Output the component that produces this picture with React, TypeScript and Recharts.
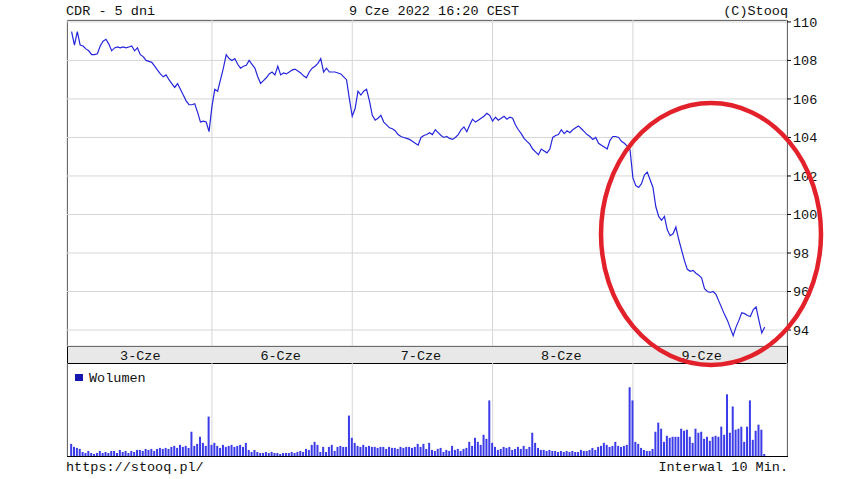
import { LineChart, Line, BarChart, Bar, XAxis, YAxis, CartesianGrid } from "recharts"

// CDR, 5 days, 10-minute candles (close) + volume
const dayLabels = ["3-Cze", "6-Cze", "7-Cze", "8-Cze", "9-Cze"]

const day1Price = [
  109.5, 108.8, 109.5, 108.8, 108.75, 108.6, 108.5, 108.3, 108.3, 108.35,
  108.75, 109.0, 109.1, 108.85, 108.5, 108.65, 108.7, 108.65, 108.7, 108.65,
  108.7, 108.75, 108.5, 108.65, 108.3, 108.2, 108.0, 107.95, 107.9, 107.7,
  107.5, 107.3, 107.15, 107.25, 107.0, 106.8, 106.6, 106.8, 106.5, 106.2,
  105.9, 105.7, 105.7, 105.75, 105.3, 104.8, 104.85, 104.8, 104.3,
]
const day2Price = [
  105.6, 106.5, 106.4, 107.0, 107.6, 108.3, 108.1, 108.0, 108.1, 107.8,
  107.6, 107.7, 107.75, 108.0, 107.8, 107.6, 107.15, 106.8, 106.95, 107.1,
  107.3, 107.4, 107.25, 107.7, 107.25, 107.35, 107.3, 107.4, 107.5, 107.55,
  107.45, 107.35, 107.2, 107.1, 107.4, 107.6, 107.7, 107.85, 108.1, 107.4,
  107.6, 107.4, 107.4, 107.4, 107.35, 107.3, 107.15, 107.0, 106.0,
]
const day3Price = [
  105.1, 105.5, 106.4, 106.2, 106.4, 106.5, 105.9, 105.15, 104.9, 105.0,
  105.15, 104.8, 104.65, 104.5, 104.45, 104.35, 104.15, 104.05, 104.0, 103.95,
  103.9, 103.8, 103.7, 103.6, 104.0, 104.1, 104.15, 104.25, 104.15, 104.4,
  104.25, 104.1, 104.0, 104.05, 103.95, 103.9, 104.0, 104.15, 104.4, 104.55,
  104.3, 104.65, 104.95, 104.8, 104.9, 105.0, 105.1, 105.25, 105.15,
]
const day4Price = [
  104.85, 105.05, 104.9, 105.0, 105.1, 104.95, 105.05, 105.0, 104.65, 104.4,
  104.2, 103.95, 103.8, 103.65, 103.4, 103.25, 103.1, 103.4, 103.3, 103.2,
  103.4, 104.0, 104.1, 104.15, 104.4, 104.2, 104.35, 104.25, 104.4, 104.5,
  104.6, 104.45, 104.3, 104.15, 104.05, 103.9, 104.0, 103.7, 103.6, 103.5,
  103.4, 103.85, 104.05, 104.05, 104.0, 103.8, 103.7, 103.55, 103.35,
]
const day5Price = [
  101.9, 101.5, 101.4, 101.6, 102.05, 102.2, 101.8, 101.4, 100.4, 99.9,
  99.7, 99.9, 99.2, 98.9, 99.0, 99.35, 98.7, 98.15, 97.6, 97.15,
  97.05, 97.1, 96.95, 96.85, 96.7, 96.15, 96.0, 95.95, 96.0, 95.85,
  95.5, 95.15, 94.8, 94.5, 94.1, 93.7, 94.15, 94.5, 94.9, 94.85,
  94.75, 94.7, 95.05, 95.2, 94.5, 93.85, 94.15,
]

const day1Vol = [
  12, 9, 8, 7, 4, 3, 5, 3, 2, 3, 5, 3, 4, 3, 5, 5, 3, 6, 4, 5,
  3, 5, 4, 6, 6, 5, 7, 6, 7, 5, 7, 8, 7, 8, 7, 9, 10, 8, 11, 9,
  10, 8, 24, 10, 12, 19, 13, 10, 39,
]
const day2Vol = [
  11, 13, 10, 8, 11, 9, 10, 11, 9, 10, 11, 9, 13, 6, 4, 6, 4, 3, 3, 4,
  3, 4, 3, 3, 2, 3, 3, 3, 4, 3, 4, 5, 4, 7, 6, 11, 14, 11, 4, 9,
  4, 9, 11, 5, 9, 10, 9, 9, 40,
]
const day3Vol = [
  18, 13, 10, 9, 11, 9, 10, 9, 9, 8, 9, 9, 7, 9, 8, 8, 7, 9, 8, 9,
  9, 8, 9, 12, 9, 12, 7, 13, 6, 5, 7, 8, 4, 6, 5, 10, 6, 7, 5, 7,
  8, 14, 10, 18, 14, 11, 21, 17, 55,
]
const day4Vol = [
  13, 9, 6, 7, 9, 8, 9, 6, 7, 9, 7, 10, 7, 9, 23, 13, 8, 6, 6, 5,
  6, 5, 5, 4, 5, 4, 5, 4, 5, 4, 4, 6, 5, 5, 6, 8, 6, 9, 10, 13,
  11, 9, 10, 14, 10, 9, 10, 11, 68,
]
const day5Vol = [
  55, 14, 12, 8, 6, 5, 5, 7, 24, 33, 27, 14, 20, 18, 19, 19, 19, 27, 25, 26,
  19, 13, 27, 23, 24, 17, 19, 15, 19, 20, 19, 29, 21, 61, 23, 49, 26, 27, 29, 14,
  29, 55, 16, 25, 31, 26, 2,
]

const priceTicks = [94, 96, 98, 100, 102, 104, 106, 108, 110]

const SLOTS = 49 // 10-min slots per session
const prices = [day1Price, day2Price, day3Price, day4Price, day5Price]
const volumes = [day1Vol, day2Vol, day3Vol, day4Vol, day5Vol]

const data = prices.flatMap((day, d) =>
  day.map((p, k) => ({ t: d * SLOTS + k, price: p, vol: volumes[d][k] }))
)
const separators = [1, 2, 3, 4].map((d) => d * SLOTS)
const labelTicks = dayLabels.map((_, d) => d * SLOTS + 24)

const X_DOMAIN: [number, number] = [-1.6, 249.8]
const FONT = "'Liberation Mono', 'DejaVu Sans Mono', monospace"
const FS = 13.5
const LINE = "#2626dc"
const BAR = "#3b3be8"
const GRID = "#d6d6d6"

const blank = () => ""

export default function App() {
  return (
    <div style={{ position: "absolute", left: 0, top: 0, width: 865, height: 479, background: "#fff", overflow: "hidden" }}>
      {/* panel frames */}
      <div style={{ position: "absolute", left: 67, top: 20, width: 721, height: 327, border: "1px solid #000", boxSizing: "border-box" }} />
      <div style={{ position: "absolute", left: 67, top: 346, width: 721, height: 18, border: "1px solid #000", boxSizing: "border-box", background: "#e8e8e8" }} />
      <div style={{ position: "absolute", left: 67, top: 363, width: 721, height: 94, border: "1px solid #000", boxSizing: "border-box" }} />

      <div style={{ position: "absolute", left: 0, top: 0 }}>
        <LineChart width={865} height={347} data={data} margin={{ top: 20, right: 38, bottom: 1, left: 67 }}>
          <CartesianGrid stroke={GRID} />
          <XAxis
            dataKey="t"
            type="number"
            domain={X_DOMAIN}
            allowDataOverflow
            ticks={separators}
            orientation="bottom"
            mirror
            height={0}
            tickSize={3}
            tickLine={{ stroke: "#000" }}
            axisLine={false}
            tickFormatter={blank}
          />
          <XAxis
            xAxisId="top"
            dataKey="t"
            type="number"
            domain={X_DOMAIN}
            allowDataOverflow
            ticks={separators}
            orientation="top"
            mirror
            height={0}
            tickSize={3}
            tickLine={{ stroke: "#000" }}
            axisLine={false}
            tickFormatter={blank}
          />
          <YAxis
            orientation="right"
            type="number"
            width={40}
            domain={[93.17, 110.1]}
            allowDataOverflow
            ticks={priceTicks}
            tickSize={4}
            tickMargin={2}
            axisLine={false}
            tickLine={{ stroke: "#000" }}
            tick={{ fontSize: FS, fontFamily: FONT, fill: "#111" }}
          />
          <Line type="linear" dataKey="price" stroke={LINE} strokeWidth={1.2} dot={false} isAnimationActive={false} />
        </LineChart>
      </div>

      <div style={{ position: "absolute", left: 0, top: 346 }}>
        <BarChart width={865} height={111} data={data} margin={{ top: 0, right: 78, bottom: 1, left: 67 }}>
          <CartesianGrid stroke={GRID} horizontal={false} />
          <XAxis
            dataKey="t"
            type="number"
            domain={X_DOMAIN}
            allowDataOverflow
            ticks={separators}
            orientation="top"
            mirror
            height={0}
            tickSize={3}
            tickLine={{ stroke: "#000" }}
            axisLine={false}
            tickFormatter={blank}
          />
          <XAxis
            xAxisId="labels"
            dataKey="t"
            type="number"
            domain={X_DOMAIN}
            allowDataOverflow
            ticks={labelTicks}
            orientation="top"
            height={17}
            tickSize={0}
            tickMargin={3}
            tickLine={false}
            axisLine={false}
            tickFormatter={(v: number) => dayLabels[Math.floor(v / SLOTS)] ?? ""}
            tick={{ fontSize: FS, fontFamily: FONT, fill: "#111" }}
          />
          <YAxis hide domain={[0, 92]} allowDataOverflow />
          <Bar dataKey="vol" fill={BAR} barSize={2} isAnimationActive={false} />
        </BarChart>
      </div>

      <svg width={865} height={479} style={{ position: "absolute", left: 0, top: 0, pointerEvents: "none" }}>
        <g fontFamily={FONT} fontSize={FS} fill="#111">
          <text x={66} y={15}>CDR - 5 dni</text>
          <text x={434} y={15} textAnchor="middle">9 Cze 2022 16:20 CEST</text>
          <text x={788} y={15} textAnchor="end">(C)Stooq</text>
          <text x={89} y={382}>Wolumen</text>
          <text x={66} y={471}>https://stooq.pl/</text>
          <text x={788} y={471} textAnchor="end">Interwal 10 Min.</text>
        </g>
        <rect x={75} y={374} width={8} height={7} fill="#1616b0" />
        <ellipse cx={711} cy={234} rx={110} ry={131} fill="none" stroke="#e3212b" strokeWidth={4.5} />
      </svg>
    </div>
  )
}
